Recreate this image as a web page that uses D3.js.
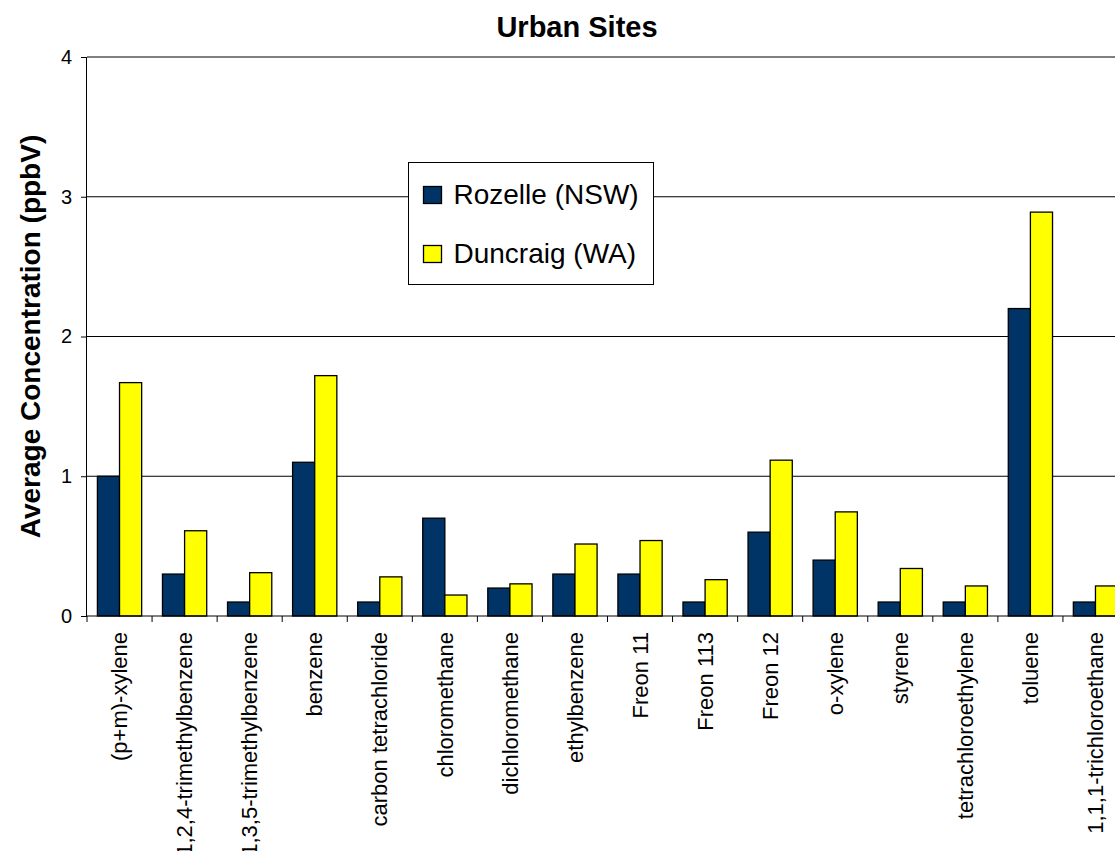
<!DOCTYPE html>
<html>
<head>
<meta charset="utf-8">
<script src="https://cdn.jsdelivr.net/npm/d3@7"></script>
<style>
  html, body { margin: 0; padding: 0; background: #fff; }
  svg { display: block; font-family: Arial, "Liberation Sans", sans-serif; }
</style>
</head>
<body>
<svg id="chart" width="1115" height="851"></svg>
<script>
const categories = ["(p+m)-xylene", "1,2,4-trimethylbenzene", "1,3,5-trimethylbenzene", "benzene",
  "carbon tetrachloride", "chloromethane", "dichloromethane", "ethylbenzene", "Freon 11", "Freon 113",
  "Freon 12", "o-xylene", "styrene", "tetrachloroethylene", "toluene", "1,1,1-trichloroethane"];
const seriesNames = ["Rozelle (NSW)", "Duncraig (WA)"];
const rozelle  = [1.00, 0.30, 0.10, 1.10, 0.10, 0.70, 0.20, 0.30, 0.30, 0.10, 0.60, 0.40, 0.10, 0.10, 2.20, 0.10];
const duncraig = [1.67, 0.61, 0.31, 1.72, 0.28, 0.15, 0.23, 0.515, 0.54, 0.26, 1.115, 0.745, 0.34, 0.215, 2.89, 0.215];
const yTicks = [0, 1, 2, 3, 4];
const colors = ["#003366", "#FFFF00"];
const title = "Urban Sites";
const yTitle = "Average Concentration (ppbV)";

const svg = d3.select("#chart");
const plot = { left: 87, right: 1128, top: 57, bottom: 616 };

const x = d3.scaleBand().domain(categories).range([plot.left, plot.right])
  .paddingInner(0.32).paddingOuter(0.16);
const step = x.step();
const xs = d3.scaleBand().domain(seriesNames).range([0, x.bandwidth()]);
const y = d3.scaleLinear().domain([0, 4]).range([plot.bottom, plot.top]);

// gridlines
svg.append("g").selectAll("line").data(yTicks.filter(d => d > 0)).join("line")
  .attr("x1", plot.left).attr("x2", 1115)
  .attr("y1", d => y(d)).attr("y2", d => y(d))
  .attr("stroke", "#000").attr("stroke-width", 1);

// bars
const data = categories.map((c, i) => ({ c, vals: [rozelle[i], duncraig[i]] }));
const groups = svg.append("g").selectAll("g").data(data).join("g")
  .attr("transform", d => `translate(${x(d.c)},0)`);
groups.selectAll("rect").data(d => d.vals.map((v, j) => ({ v, s: seriesNames[j], j }))).join("rect")
  .attr("x", d => xs(d.s)).attr("width", xs.bandwidth())
  .attr("y", d => y(d.v)).attr("height", d => y(0) - y(d.v))
  .attr("fill", d => colors[d.j]).attr("stroke", "#000").attr("stroke-width", 1.3);

// y axis
const yAxis = svg.append("g").attr("transform", `translate(${plot.left},0)`)
  .call(d3.axisLeft(y).tickValues(yTicks).tickSize(6).tickPadding(9).tickFormat(d3.format("d")));
yAxis.select(".domain").attr("stroke", "#000").attr("d", `M-0.5,${plot.top}V${plot.bottom}`);
yAxis.selectAll(".tick line").attr("stroke", "#000");
yAxis.selectAll("text").attr("font-size", 20).attr("fill", "#000")
  .attr("font-family", "Arial, 'Liberation Sans', sans-serif");

// x axis line and boundary ticks
const xAxisG = svg.append("g");
xAxisG.append("line").attr("x1", plot.left).attr("x2", 1115)
  .attr("y1", plot.bottom).attr("y2", plot.bottom).attr("stroke", "#000");
const bounds = d3.range(categories.length + 1).map(k => plot.left + k * step);
xAxisG.selectAll("line.tk").data(bounds).join("line").attr("class", "tk")
  .attr("x1", d => d).attr("x2", d => d)
  .attr("y1", plot.bottom).attr("y2", plot.bottom + 6).attr("stroke", "#000");
xAxisG.selectAll("text").data(categories).join("text")
  .attr("transform", d => `translate(${x(d) + x.bandwidth() / 2},${plot.bottom + 16}) rotate(-90)`)
  .attr("text-anchor", "end").attr("dy", "0.35em")
  .attr("font-size", 22).attr("fill", "#000").text(d => d);

// titles
svg.append("text").attr("x", 577).attr("y", 37).attr("text-anchor", "middle")
  .attr("font-size", 29).attr("font-weight", "bold").text(title);
svg.append("text").attr("transform", `translate(40,${(plot.top + plot.bottom) / 2}) rotate(-90)`)
  .attr("text-anchor", "middle").attr("font-size", 28).attr("font-weight", "bold").text(yTitle);

// legend
const lg = svg.append("g").attr("transform", "translate(408.5,162.5)");
lg.append("rect").attr("width", 245).attr("height", 122).attr("fill", "#fff").attr("stroke", "#000");
seriesNames.forEach((s, i) => {
  lg.append("rect").attr("x", 15).attr("y", 24 + i * 59).attr("width", 18).attr("height", 17)
    .attr("fill", colors[i]).attr("stroke", "#000").attr("stroke-width", 1.3);
  lg.append("text").attr("x", 45).attr("y", 41 + i * 59).attr("font-size", 28).text(s);
});
</script>
</body>
</html>
